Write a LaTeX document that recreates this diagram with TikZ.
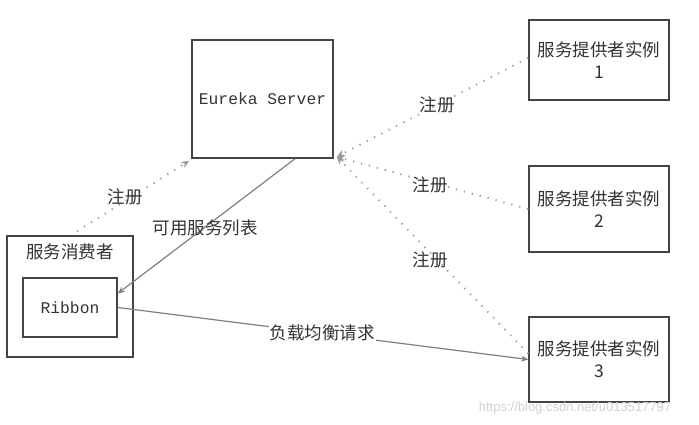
\documentclass[tikz,border=0pt]{standalone}
\usepackage{fontspec}
\setmainfont{Noto Sans CJK SC}
\setmonofont{Liberation Mono}
\newfontfamily\wmfont{Liberation Sans}
\usetikzlibrary{arrows.meta}
\definecolor{boxline}{HTML}{444444}
\definecolor{conn}{HTML}{808080}
\definecolor{dotc}{HTML}{9A9A9A}
\definecolor{txt}{HTML}{333333}
\begin{document}
\begin{tikzpicture}[x=1pt,y=-1pt,
  box/.style={draw=boxline, line width=1.5pt, rectangle, inner sep=0pt, text=txt},
  cjk/.style={font=\fontsize{17.5}{22}\selectfont, text=txt},
  mono/.style={font=\ttfamily\fontsize{16.3}{20}\selectfont, text=txt},
  solidarr/.style={draw=conn, line width=1.2pt, -{Stealth[length=7pt,width=6pt]}},
  dotarr/.style={draw=dotc, line width=1.9pt, dash pattern=on 1.2pt off 7pt, -{Stealth[length=8pt,width=7pt,line width=0pt]}},
  lbl/.style={cjk, inner sep=1pt}
]
\useasboundingbox[fill=white] (0,0) rectangle (699,425);

% nodes
\node[box, minimum width=141pt, minimum height=118pt, mono] (eureka) at (262.5,99) {Eureka Server};
\node[box, minimum width=126pt, minimum height=121pt] (consumer) at (70,296.5) {};
\node[cjk, inner sep=0pt] (consumerlbl) at (70,252) {服务消费者};
\node[box, minimum width=94pt, minimum height=59pt, mono] (ribbon) at (70,307.5) {Ribbon};
\node[box, minimum width=140pt, minimum height=80pt, cjk, align=center] (p1) at (599,60) {服务提供者实例\\1};
\node[box, minimum width=140pt, minimum height=86pt, cjk, align=center] (p2) at (599,209) {服务提供者实例\\2};
\node[box, minimum width=140pt, minimum height=85pt, cjk, align=center] (p3) at (599,359.5) {服务提供者实例\\3};

\coordinate (ecorner) at ([xshift=3pt,yshift=2pt]eureka.south east);
\coordinate (wcorner) at ([xshift=-2pt,yshift=-2pt]eureka.south west);

% connectors
\draw[dotarr] ([xshift=7pt,yshift=4pt]consumer.north) -- (wcorner);
\draw[solidarr] ([xshift=32.5pt]eureka.south) -- ([yshift=14pt]ribbon.east);
\draw[dotarr] ([yshift=2pt]p1.west) -- (ecorner);
\draw[dotarr] (p2.west) -- (ecorner);
\draw[dotarr] ([yshift=6pt]p3.west) -- (ecorner);
\draw[solidarr] (ribbon.east) -- (p3.west);

% labels
\node[lbl] (l1) at (125,197) {注册};
\node[lbl] (l2) at (437,105) {注册};
\node[lbl] (l3) at (430,185) {注册};
\node[lbl] (l4) at (430,260) {注册};
\node[lbl] (l5) at (205,228) {可用服务列表};
\node[lbl, fill=white] (l6) at (322,333) {负载均衡请求};

% watermark
\node[font=\wmfont\fontsize{13}{15}\selectfont, text=black!18] (wm) at (575,408) {https://blog.csdn.net/u013517797};
\end{tikzpicture}
\end{document}
